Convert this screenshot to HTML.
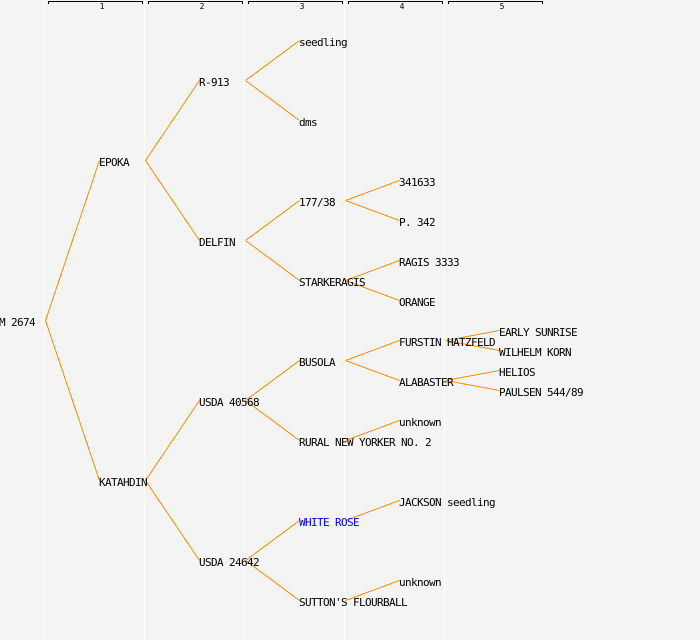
<!DOCTYPE html>
<html>
<head>
<meta charset="utf-8">
<style>
html,body{margin:0;padding:0;background:#f4f4f4;width:700px;height:640px;overflow:hidden}
svg{display:block}
text{font-family:"DejaVu Sans Mono","Liberation Mono",monospace;font-size:11px;letter-spacing:-0.62px;fill:#000}
text.n{font-size:8px;letter-spacing:0;text-anchor:middle}
</style>
</head>
<body>
<svg width="700" height="640" viewBox="0 0 700 640" xmlns="http://www.w3.org/2000/svg">
<rect width="700" height="640" fill="#f4f4f4"/>
<g stroke="#ffffff" stroke-width="1" fill="none" shape-rendering="crispEdges">
<path d="M44.5 0V640M144.5 0V640M244.5 0V640M344.5 0V640M444.5 0V640"/>
</g>
<g stroke="#000" stroke-width="1" fill="none" shape-rendering="crispEdges">
<path d="M48.5 4V1.5H142.5V4"/>
<path d="M148.5 4V1.5H242.5V4"/>
<path d="M248.5 4V1.5H342.5V4"/>
<path d="M348.5 4V1.5H442.5V4"/>
<path d="M448.5 4V1.5H542.5V4"/>
</g>
<text class="n" x="102" y="9">1</text>
<text class="n" x="202" y="9">2</text>
<text class="n" x="302" y="9">3</text>
<text class="n" x="402" y="9">4</text>
<text class="n" x="502" y="9">5</text>
<g stroke="#ff8c00" stroke-width="1" fill="none" shape-rendering="crispEdges">
<path d="M45.5 320.5L99.5 160.5M45.5 320.5L99.5 480.5"/>
<path d="M145.5 160.5L199.5 80.5M145.5 160.5L199.5 240.5M145.5 480.5L199.5 400.5M145.5 480.5L199.5 560.5"/>
<path d="M245.5 80.5L299.5 40.5M245.5 80.5L299.5 120.5M245.5 240.5L299.5 200.5M245.5 240.5L299.5 280.5M245.5 400.5L299.5 360.5M245.5 400.5L299.5 440.5M245.5 560.5L299.5 520.5M245.5 560.5L299.5 600.5"/>
<path d="M345.5 200.5L399.5 180.5M345.5 200.5L399.5 220.5M345.5 280.5L399.5 260.5M345.5 280.5L399.5 300.5M345.5 360.5L399.5 340.5M345.5 360.5L399.5 380.5M345.5 440.5L399.5 420.5M345.5 520.5L399.5 500.5M345.5 600.5L399.5 580.5"/>
<path d="M445.5 340.5L499.5 330.5M445.5 340.5L499.5 350.5M445.5 380.5L499.5 370.5M445.5 380.5L499.5 390.5"/>
</g>
<text x="-1" y="326">M 2674</text>
<text x="99" y="166">EPOKA</text>
<text x="99" y="486">KATAHDIN</text>
<text x="199" y="86">R-913</text>
<text x="199" y="246">DELFIN</text>
<text x="199" y="406">USDA 40568</text>
<text x="199" y="566">USDA 24642</text>
<text x="299" y="46">seedling</text>
<text x="299" y="126">dms</text>
<text x="299" y="206">177/38</text>
<text x="299" y="286">STARKERAGIS</text>
<text x="299" y="366">BUSOLA</text>
<text x="299" y="446">RURAL NEW YORKER NO. 2</text>
<text x="299" y="526" style="fill:#0000ff">WHITE ROSE</text>
<text x="299" y="606">SUTTON'S FLOURBALL</text>
<text x="399" y="186">341633</text>
<text x="399" y="226">P. 342</text>
<text x="399" y="266">RAGIS 3333</text>
<text x="399" y="306">ORANGE</text>
<text x="399" y="346">FURSTIN HATZFELD</text>
<text x="399" y="386">ALABASTER</text>
<text x="399" y="426">unknown</text>
<text x="399" y="506">JACKSON seedling</text>
<text x="399" y="586">unknown</text>
<text x="499" y="336">EARLY SUNRISE</text>
<text x="499" y="356">WILHELM KORN</text>
<text x="499" y="376">HELIOS</text>
<text x="499" y="396">PAULSEN 544/89</text>
</svg>
</body>
</html>
